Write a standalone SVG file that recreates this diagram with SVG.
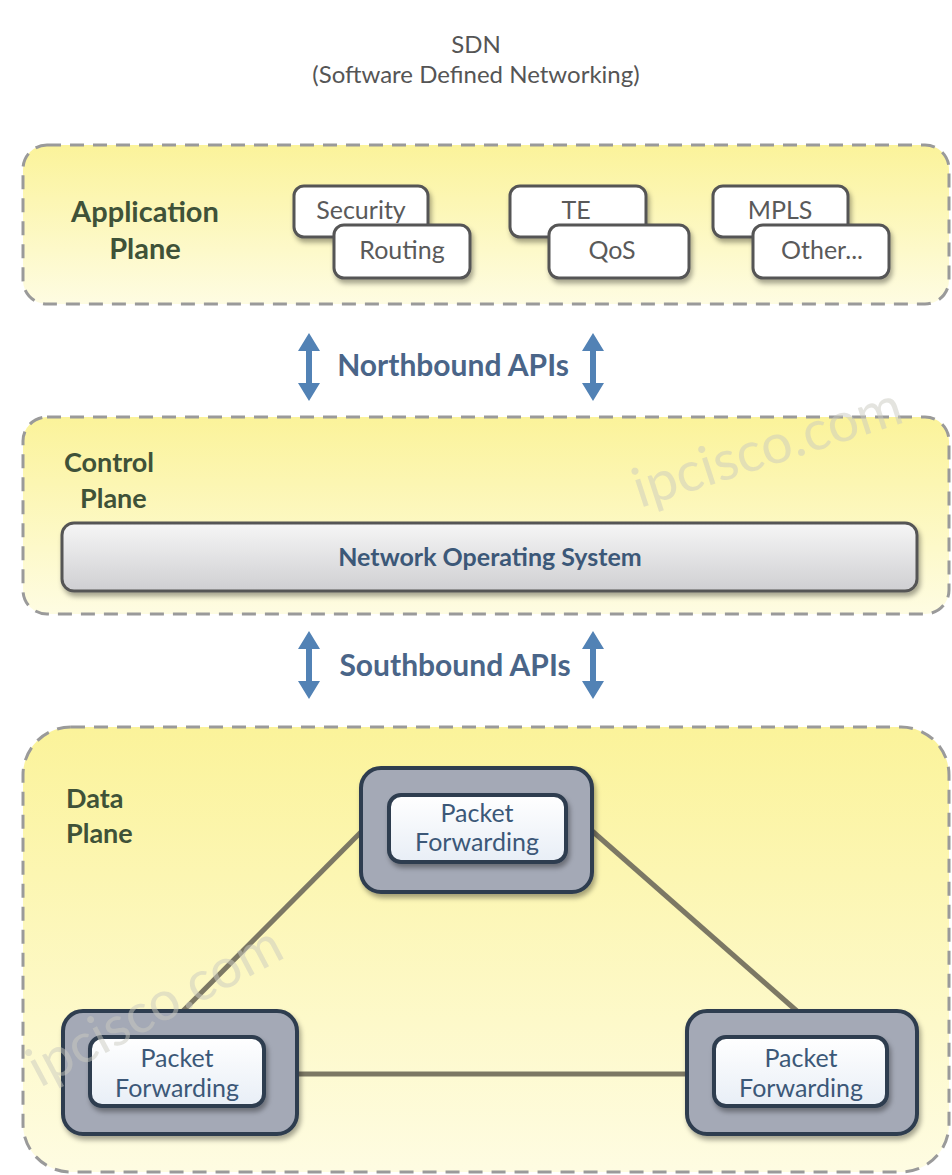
<svg xmlns="http://www.w3.org/2000/svg" width="952" height="1175" viewBox="0 0 952 1175">
<defs>
<linearGradient id="yel" x1="0" y1="0" x2="0" y2="1">
<stop offset="0" stop-color="#fbf39a"/>
<stop offset="1" stop-color="#fefce2"/>
</linearGradient>
<linearGradient id="nos" x1="0" y1="0" x2="0" y2="1">
<stop offset="0" stop-color="#f6f6f6"/>
<stop offset="1" stop-color="#cfcfd2"/>
</linearGradient>
<linearGradient id="inner" x1="0" y1="0" x2="0" y2="1">
<stop offset="0" stop-color="#ffffff"/>
<stop offset="1" stop-color="#e8eef6"/>
</linearGradient>
<filter id="sh" x="-20%" y="-20%" width="140%" height="150%">
<feDropShadow dx="2" dy="4" stdDeviation="2.5" flood-color="#000" flood-opacity="0.35"/>
</filter>
<path id="dArrow" d="M0,-34 L11,-16 L3,-16 L3,16 L11,16 L0,34 L-11,16 L-3,16 L-3,-16 L-11,-16 Z"/>
</defs>
<style>
.plane{fill:url(#yel);stroke:#9a9a9a;stroke-width:3;stroke-dasharray:14 9}
.plabel{font-family:Lato,"Open Sans",sans-serif;font-weight:bold;font-size:27px;fill:#3f5238}
.big{font-size:29px}
.title{font-family:Lato,"Open Sans",sans-serif;font-size:24px;fill:#555}
.app{fill:#fff;stroke:#555;stroke-width:3;filter:url(#sh)}
.apptxt{font-family:Lato,"Open Sans",sans-serif;font-size:25px;fill:#5a5a5a;text-anchor:middle}
.api{font-family:Lato,"Open Sans",sans-serif;font-weight:bold;font-size:30px;fill:#4a6588;text-anchor:middle}
.arrow{fill:#5282b5}
.outer{fill:#a4a9b6;stroke:#2f3d4f;stroke-width:4;filter:url(#sh)}
.innerbox{fill:url(#inner);stroke:#2f3d4f;stroke-width:4;filter:url(#sh)}
.pf{font-family:Lato,"Open Sans",sans-serif;font-size:25px;fill:#3c5878;text-anchor:middle}
.nostxt{font-weight:bold;font-size:25px}
.link{stroke:#7c7864;stroke-width:5;fill:none}
.wm{font-family:Lato,"Open Sans",sans-serif;font-size:55px;fill:#c9c9c0;fill-opacity:0.5}
</style>

<g id="title">
<text class="title" x="476" y="53" text-anchor="middle">SDN</text>
<text class="title" x="476" y="83" text-anchor="middle">(Software Defined Networking)</text>
</g>

<g id="application-plane">
<rect class="plane" x="23" y="145" width="926" height="159" rx="24"/>
<text class="plabel big" x="145" y="222" text-anchor="middle">Application</text>
<text class="plabel big" x="145" y="259" text-anchor="middle">Plane</text>
</g>
<g id="app-security"><rect class="app" x="294" y="186" width="134" height="51" rx="10"/><text class="apptxt" x="361" y="219">Security</text></g>
<g id="app-routing"><rect class="app" x="334" y="225" width="136" height="53" rx="10"/><text class="apptxt" x="402" y="259">Routing</text></g>
<g id="app-te"><rect class="app" x="510" y="186" width="136" height="51" rx="10"/><text class="apptxt" x="576" y="219">TE</text></g>
<g id="app-qos"><rect class="app" x="549" y="225" width="140" height="53" rx="10"/><text class="apptxt" x="612" y="259">QoS</text></g>
<g id="app-mpls"><rect class="app" x="713" y="186" width="135" height="51" rx="10"/><text class="apptxt" x="780" y="219">MPLS</text></g>
<g id="app-other"><rect class="app" x="753" y="225" width="136" height="53" rx="10"/><text class="apptxt" x="822" y="259">Other...</text></g>

<g id="northbound">
<use href="#dArrow" class="arrow" x="309" y="367"/>
<use href="#dArrow" class="arrow" x="593" y="367"/>
<text class="api" x="453" y="376">Northbound APIs</text>
</g>

<g id="control-plane">
<rect class="plane" x="23" y="417" width="926" height="197" rx="24"/>
<text class="plabel" x="64" y="472">Control</text>
<text class="plabel" x="80" y="508">Plane</text>
<text class="wm" x="640" y="508" transform="rotate(-18 640 508)">ipcisco.com</text>
</g>
<g id="nos">
<rect x="62" y="523" width="855" height="68" rx="12" fill="url(#nos)" stroke="#555" stroke-width="3" filter="url(#sh)"/>
<text class="pf nostxt" x="490" y="566">Network Operating System</text>
</g>

<g id="southbound">
<use href="#dArrow" class="arrow" x="309" y="665"/>
<use href="#dArrow" class="arrow" x="593" y="665"/>
<text class="api" x="455" y="676">Southbound APIs</text>
</g>

<g id="data-plane">
<rect class="plane" x="23" y="727" width="926" height="445" rx="48"/>
<text class="plabel" x="66" y="808">Data</text>
<text class="plabel" x="66" y="843">Plane</text>
</g>

<g id="connectors">
<line class="link" x1="363" y1="830" x2="182" y2="1012"/>
<line class="link" x1="591" y1="830" x2="798" y2="1012"/>
<line class="link" x1="297" y1="1074" x2="687" y2="1074"/>
</g>

<g id="pf-top">
<rect class="outer" x="361" y="768" width="231" height="124" rx="20"/>
<rect class="innerbox" x="389" y="795" width="177" height="67" rx="12"/>
<text class="pf" x="477" y="822">Packet</text>
<text class="pf" x="477" y="851">Forwarding</text>
</g>
<g id="pf-left">
<rect class="outer" x="63" y="1011" width="234" height="123" rx="20"/>
<rect class="innerbox" x="90" y="1037" width="174" height="69" rx="12"/>
<text class="pf" x="177" y="1067">Packet</text>
<text class="pf" x="177" y="1097">Forwarding</text>
</g>
<g id="pf-right">
<rect class="outer" x="687" y="1011" width="230" height="123" rx="20"/>
<rect class="innerbox" x="714" y="1037" width="173" height="69" rx="12"/>
<text class="pf" x="801" y="1067">Packet</text>
<text class="pf" x="801" y="1097">Forwarding</text>
</g>

<text class="wm" x="40" y="1088" transform="rotate(-28 40 1088)">ipcisco.com</text>
</svg>
